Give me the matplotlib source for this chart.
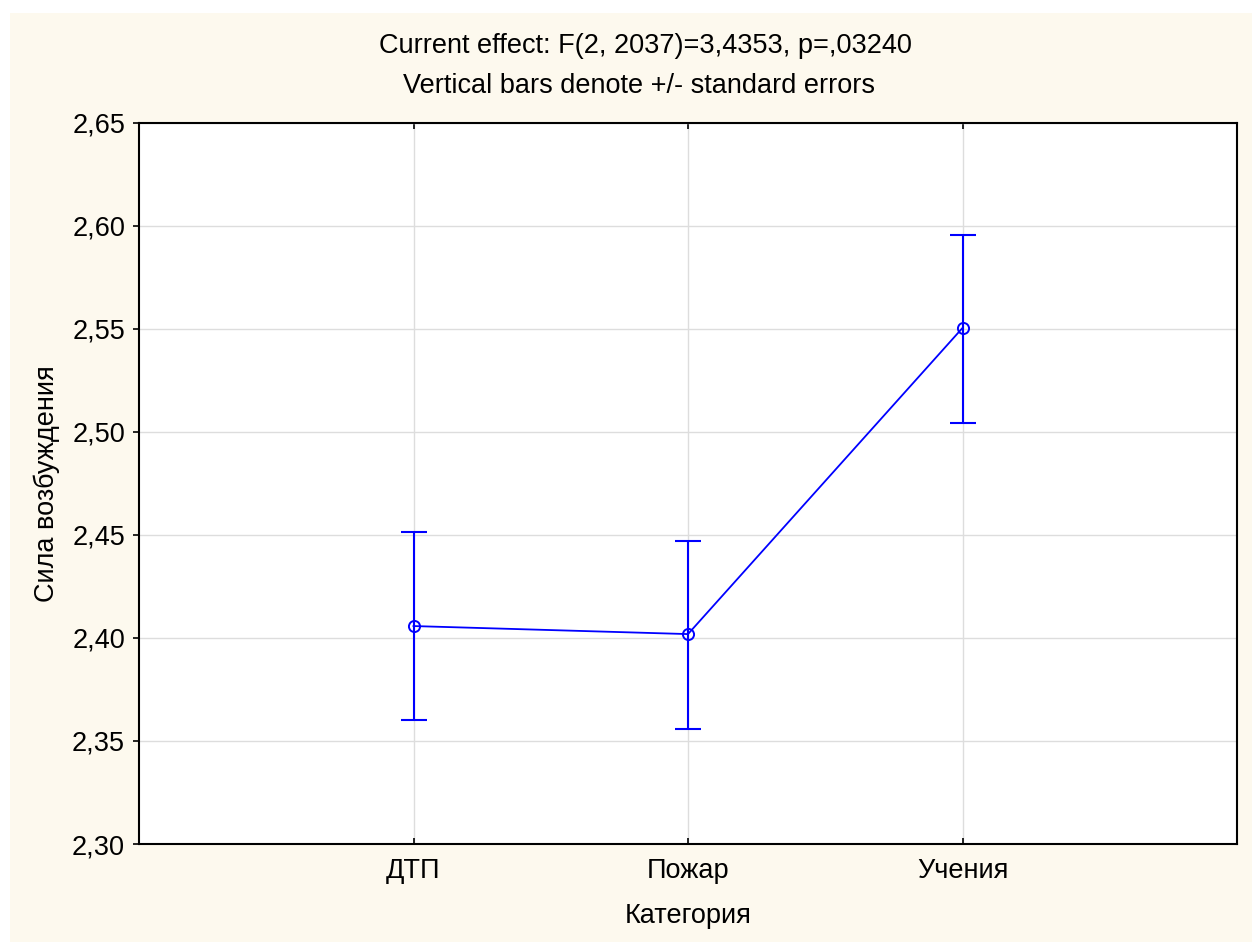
import matplotlib.pyplot as plt
import matplotlib.patches as patches
import numpy as np

categories = ['ДТП', 'Пожар', 'Учения']
means = [2.4058, 2.4019, 2.5505]
upper = [2.4515, 2.4471, 2.5956]
lower = [2.3602, 2.3558, 2.5044]

yticks = [2.30, 2.35, 2.40, 2.45, 2.50, 2.55, 2.60, 2.65]
ytick_labels = ['2,30', '2,35', '2,40', '2,45', '2,50', '2,55', '2,60', '2,65']

plt.rcParams['font.family'] = ['Liberation Sans', 'DejaVu Sans']
FS = 19.5

W, H = 1252, 942
fig = plt.figure(figsize=(W / 100, H / 100), dpi=100, facecolor='white')
# cream panel, with thin white strip on top and left
fig.patches.append(patches.Rectangle((10 / W, 0), 1 - 10 / W, 1 - 13 / H,
                                     transform=fig.transFigure, fc='#fdf9ee',
                                     ec='none', zorder=-10))

ax = fig.add_axes([139 / W, 1 - 844 / H, (1237 - 139) / W, (844 - 123) / H])
ax.set_facecolor('white')

x = np.arange(len(categories))
m = np.array(means)
yerr = [m - np.array(lower), np.array(upper) - m]

ax.errorbar(x, m, yerr=yerr, fmt='none', ecolor='#0000ff', elinewidth=1.5,
            capsize=9.7, capthick=1.5, zorder=3)
ax.plot(x, m, color='#0000ff', lw=1.3, marker='o', ms=8, mfc='none',
        mec='#0000ff', mew=1.4, zorder=4)

ax.set_xlim(-1, 3)
ax.set_ylim(2.30, 2.65)
ax.set_xticks(x)
ax.set_xticklabels(categories, fontsize=FS)
ax.set_yticks(yticks)
ax.set_yticklabels(ytick_labels, fontsize=FS)

ax.grid(True, color='#dddddd', lw=1)
ax.set_axisbelow(True)
for s in ax.spines.values():
    s.set_color('black')
    s.set_linewidth(1.5)

ax.tick_params(axis='y', direction='out', length=4, width=1.2, pad=6)
ax.tick_params(axis='x', direction='in', length=4, width=1.2, pad=10,
               top=True)

ax.set_xlabel('Категория', fontsize=FS, labelpad=14)
ax.set_ylabel('Сила возбуждения', fontsize=FS, labelpad=9)

fig.text(645 / W, 1 - 46 / H, 'Current effect: F(2, 2037)=3,4353, p=,03240',
         ha='center', va='center', fontsize=FS)
fig.text(639 / W, 1 - 86 / H, 'Vertical bars denote +/- standard errors',
         ha='center', va='center', fontsize=FS)

fig.savefig('out.png', dpi=100, facecolor=fig.get_facecolor())
